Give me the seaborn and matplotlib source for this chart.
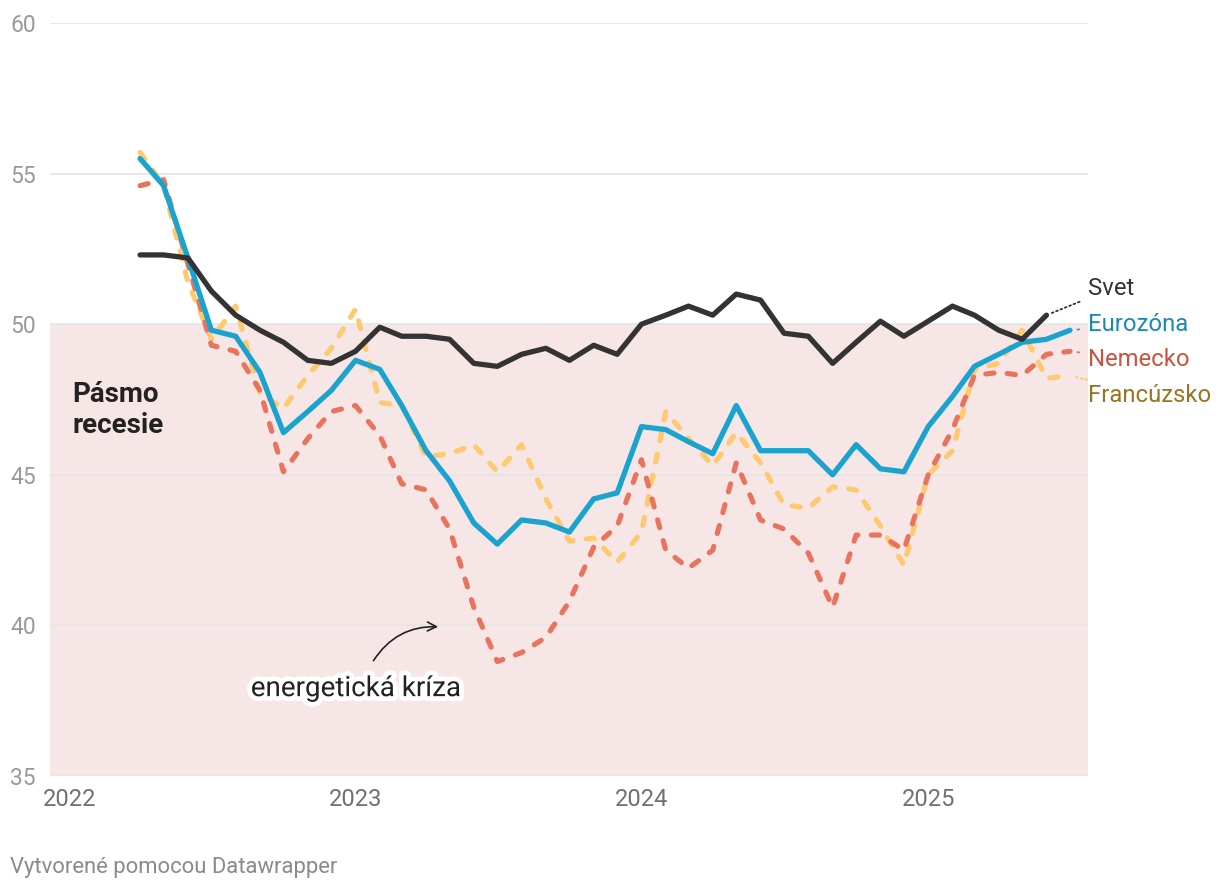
import matplotlib.pyplot as plt
import matplotlib.dates as mdates
import matplotlib.patheffects as pe
import numpy as np
import pandas as pd
import seaborn as sns

months = pd.date_range("2022-04-01", "2025-07-01", freq="MS")

svet = [52.3, 52.3, 52.2, 51.1, 50.3, 49.8, 49.4, 48.8, 48.7, 49.1, 49.9, 49.6,
        49.6, 49.5, 48.7, 48.6, 49.0, 49.2, 48.8, 49.3, 49.0, 50.0, 50.3, 50.6,
        50.3, 51.0, 50.8, 49.7, 49.6, 48.7, 49.4, 50.1, 49.6, 50.1, 50.6, 50.3,
        49.8, 49.5, 50.3]
eurozona = [55.5, 54.6, 52.2, 49.8, 49.6, 48.4, 46.4, 47.1, 47.8, 48.8, 48.5, 47.3,
            45.8, 44.8, 43.4, 42.7, 43.5, 43.4, 43.1, 44.2, 44.4, 46.6, 46.5, 46.1,
            45.7, 47.3, 45.8, 45.8, 45.8, 45.0, 46.0, 45.2, 45.1, 46.6, 47.6, 48.6,
            49.0, 49.4, 49.5, 49.8]
nemecko = [54.6, 54.8, 52.0, 49.3, 49.1, 47.8, 45.1, 46.2, 47.1, 47.3, 46.3, 44.7,
           44.5, 43.2, 40.6, 38.8, 39.1, 39.6, 40.8, 42.6, 43.3, 45.5, 42.5, 41.9,
           42.5, 45.4, 43.5, 43.2, 42.4, 40.6, 43.0, 43.0, 42.5, 45.0, 46.5, 48.3,
           48.4, 48.3, 49.0, 49.1]
francuzsko = [55.7, 54.6, 51.4, 49.5, 50.6, 47.7, 47.2, 48.3, 49.2, 50.5, 47.4, 47.3,
              45.6, 45.7, 46.0, 45.1, 46.0, 44.2, 42.8, 42.9, 42.1, 43.1, 47.1, 46.2,
              45.3, 46.4, 45.4, 44.0, 43.9, 44.6, 44.5, 43.3, 42.0, 45.0, 45.8, 48.5,
              48.7, 49.8, 48.2, 48.3]

names = ["Svet", "Eurozóna", "Nemecko", "Francúzsko"]
label_y = [51.17, 50.0, 48.84, 47.62]

sns.set_style("white")
plt.rcParams["font.family"] = ["Roboto", "DejaVu Sans"]

fig = plt.figure(figsize=(12.2, 8.92), dpi=100)
ax = fig.add_axes([50 / 1220, 1 - 776 / 892, 1038 / 1220, 753 / 892])

# recession zone
ax.axhspan(35, 50, color="#f7e6e6", zorder=0, lw=0)
for y in range(35, 61, 5):
    ax.axhline(y, color="#e5e5e5", lw=1.2, zorder=1)

dash = (1.6, 2.6)
sns.lineplot(x=months, y=francuzsko, ax=ax, color="#fec96f", lw=3.7,
             zorder=3).lines[-1].set(dashes=dash, dash_capstyle="round")
sns.lineplot(x=months, y=nemecko, ax=ax, color="#e9735c", lw=3.7,
             zorder=4).lines[-1].set(dashes=dash, dash_capstyle="round")
sns.lineplot(x=months[:len(eurozona)], y=eurozona, ax=ax, color="#1aa3cf", lw=3.8, zorder=5)
sns.lineplot(x=months[:len(svet)], y=svet, ax=ax, color="#333333", lw=3.8, zorder=6)

series = [svet, eurozona, nemecko, francuzsko]
line_cols = ["#333333", "#1aa3cf", "#e9735c", "#fec96f"]
text_cols = ["#333333", "#1a8ab5", "#c9533e", "#9b7321"]

xmin = mdates.date2num(pd.Timestamp("2021-12-07"))
xmax = mdates.date2num(pd.Timestamp("2025-07-24"))
ax.set_xlim(xmin, xmax)
ax.set_ylim(35, 60)

for name, vals, lc, tc, ly in zip(names, series, line_cols, text_cols, label_y):
    lx = mdates.date2num(months[len(vals) - 1])
    ax.annotate(name, xy=(lx, vals[-1]), xytext=(xmax, ly), textcoords="data",
                ha="left", va="center", fontsize=17.2, color=tc,
                annotation_clip=False,
                arrowprops=dict(arrowstyle="-", linestyle=(0, (1, 1.6)), color=lc,
                                lw=1.3, shrinkA=4, shrinkB=4))

ax.text(mdates.date2num(pd.Timestamp("2022-01-05")), 47.15, "Pásmo\nrecesie",
        fontsize=20, fontweight="bold", color="#222222", ha="left", va="center",
        linespacing=1.2, zorder=7)

t = ax.text(mdates.date2num(pd.Timestamp("2023-01-01")), 37.9, "energetická kríza",
            fontsize=20, color="#222222", ha="center", va="center", zorder=8)
t.set_path_effects([pe.withStroke(linewidth=7, foreground="white")])
ax.annotate("", xy=(mdates.date2num(pd.Timestamp("2023-04-20")), 39.95),
            xytext=(mdates.date2num(pd.Timestamp("2023-01-22")), 38.75),
            arrowprops=dict(arrowstyle="->", color="#222222", lw=1.2,
                            connectionstyle="arc3,rad=-0.3",
                            mutation_scale=16), zorder=8)

ax.set_yticks([35, 40, 45, 50, 55, 60])
ax.set_xticks([mdates.date2num(pd.Timestamp(f"{y}-01-01")) for y in [2022, 2023, 2024, 2025]])
ax.xaxis.set_major_formatter(mdates.DateFormatter("%Y"))
ax.tick_params(axis="y", length=0, pad=10, labelsize=16.5, labelcolor="#9a9a9a")
ax.tick_params(axis="x", length=0, pad=9, labelsize=17, labelcolor="#707070")
ax.set_xlabel("")
ax.set_ylabel("")
for s in ax.spines.values():
    s.set_visible(False)

fig.text(10 / 1220, 1 - 868 / 892, "Vytvorené pomocou Datawrapper", fontsize=15.8,
         color="#8a8a8a", ha="left", va="center")

fig.savefig("out.png", dpi=100)
